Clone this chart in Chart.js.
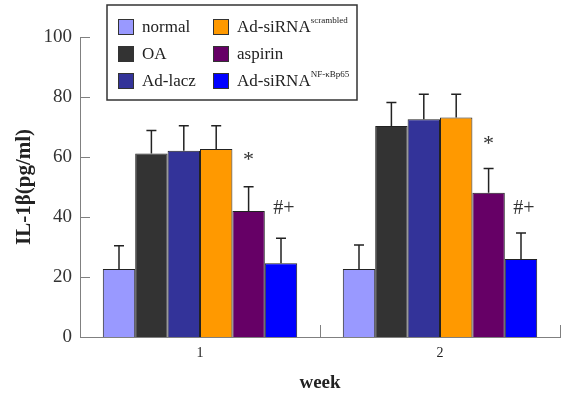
<!DOCTYPE html>
<html>
<head>
<meta charset="utf-8">
<script src="https://cdn.jsdelivr.net/npm/chart.js@4/dist/chart.umd.min.js"></script>
<style>
  body { margin: 0; background: #fff; }
</style>
</head>
<body>
<canvas id="myChart" width="565" height="395"></canvas>
<script>
const weeks = ["1", "2"];
const seriesNames = ["normal", "OA", "Ad-lacz", "Ad-siRNA", "aspirin", "Ad-siRNA"];
const seriesSup = ["", "", "", "scrambled", "", "NF-κBp65"];
const seriesColors = ["#9999ff", "#333333", "#333399", "#ff9900", "#660066", "#0000ff"];

// means per series, [week1, week2]
const normalVals = [22.7, 22.7];
const oaVals = [61.2, 70.3];
const laczVals = [62.1, 72.6];
const scrambledVals = [62.7, 73.2];
const aspirinVals = [42.0, 48.1];
const nfVals = [24.6, 26.0];

// upper error (SD) per series, [week1, week2]
const normalErr = [7.7, 8.0];
const oaErr = [7.6, 7.9];
const laczErr = [8.3, 8.3];
const scrambledErr = [7.7, 7.7];
const aspirinErr = [8.1, 8.1];
const nfErr = [8.3, 8.7];

// significance marks (value level where the sign sits)
const starLevel = [60.7, 66.0];
const hashLevel = [42.7, 42.7];

const yTicks = [0, 20, 40, 60, 80, 100];

const allVals = [normalVals, oaVals, laczVals, scrambledVals, aspirinVals, nfVals];
const allErr = [normalErr, oaErr, laczErr, scrambledErr, aspirinErr, nfErr];

const serif = "'Liberation Serif', 'Times New Roman', serif";

const errorBars = {
  id: "errorBars",
  afterDatasetsDraw(chart) {
    const ctx = chart.ctx;
    const y = chart.scales.y;
    ctx.save();
    ctx.strokeStyle = "#222";
    ctx.lineWidth = 1.5;
    chart.data.datasets.forEach((ds, i) => {
      const meta = chart.getDatasetMeta(i);
      meta.data.forEach((bar, j) => {
        const top = y.getPixelForValue(ds.data[j] + ds.errors[j]);
        ctx.beginPath();
        ctx.moveTo(bar.x, bar.y);
        ctx.lineTo(bar.x, top);
        ctx.moveTo(bar.x - 5, top);
        ctx.lineTo(bar.x + 5, top);
        ctx.stroke();
      });
    });

    // significance signs
    ctx.fillStyle = "#333";
    ctx.textAlign = "center";
    ctx.textBaseline = "middle";
    const aspMeta = chart.getDatasetMeta(4);
    const nfMeta = chart.getDatasetMeta(5);
    weeks.forEach((w, j) => {
      ctx.font = "22px " + serif;
      ctx.fillText("*", aspMeta.data[j].x, y.getPixelForValue(starLevel[j]) + 5);
      ctx.font = "20px " + serif;
      ctx.fillText("#+", nfMeta.data[j].x + 3, y.getPixelForValue(hashLevel[j]));
    });
    ctx.restore();
  }
};

const axisTicks = {
  id: "axisTicks",
  afterDraw(chart) {
    const ctx = chart.ctx;
    const { left, right, bottom } = chart.chartArea;
    const y = chart.scales.y;
    ctx.save();
    ctx.strokeStyle = "#808080";
    ctx.lineWidth = 1;
    yTicks.forEach(v => {
      const py = Math.round(y.getPixelForValue(v)) + 0.5;
      ctx.beginPath();
      ctx.moveTo(left, py);
      ctx.lineTo(left + 10, py);
      ctx.stroke();
    });
    const catW = (right - left) / weeks.length;
    for (let k = 1; k <= weeks.length; k++) {
      const px = Math.round(left + catW * k) + 0.5;
      ctx.beginPath();
      ctx.moveTo(px, bottom);
      ctx.lineTo(px, bottom - 12);
      ctx.stroke();
    }
    ctx.restore();
  }
};

const boxLegend = {
  id: "boxLegend",
  afterDraw(chart) {
    const ctx = chart.ctx;
    ctx.save();
    ctx.fillStyle = "#fff";
    ctx.fillRect(107, 5, 250, 95);
    ctx.strokeStyle = "#333";
    ctx.lineWidth = 1.5;
    ctx.strokeRect(107, 5, 250, 95);
    const colX = [118, 213];
    const rowY = [27, 54, 81];
    ctx.textBaseline = "middle";
    ctx.textAlign = "left";
    chart.data.datasets.forEach((ds, i) => {
      const cx = colX[Math.floor(i / 3)];
      const cy = rowY[i % 3];
      ctx.fillStyle = ds.backgroundColor;
      ctx.fillRect(cx, cy - 8, 16, 16);
      ctx.strokeStyle = "#333";
      ctx.lineWidth = 1;
      ctx.strokeRect(cx + 0.5, cy - 7.5, 15, 15);
      ctx.fillStyle = "#222";
      ctx.font = "17px " + serif;
      const name = seriesNames[i];
      ctx.fillText(name, cx + 24, cy + 1);
      if (seriesSup[i]) {
        const w = ctx.measureText(name).width;
        ctx.font = "9px " + serif;
        ctx.fillText(seriesSup[i], cx + 24 + w, cy - 6);
      }
    });
    ctx.restore();
  }
};

const data = {
  labels: weeks,
  datasets: seriesNames.map((name, i) => ({
    label: seriesSup[i] ? name + " " + seriesSup[i] : name,
    data: allVals[i],
    errors: allErr[i],
    backgroundColor: seriesColors[i],
    borderColor: "#222",
    borderWidth: 1,
    categoryPercentage: 0.81,
    barPercentage: 1.0,
  })),
};

const config = {
  type: "bar",
  data: data,
  options: {
    responsive: false,
    animation: false,
    layout: { padding: { top: 37, right: 5, left: 0, bottom: 0 } },
    scales: {
      x: {
        grid: { display: false, drawTicks: false },
        border: { display: true, color: "#808080", width: 1 },
        ticks: {
          padding: 8,
          color: "#222",
          font: { family: serif, size: 14 },
        },
        title: {
          display: true,
          text: "week",
          color: "#222",
          padding: { top: 0, bottom: 1 },
          font: { family: serif, size: 19, weight: "bold" },
        },
        afterFit: (scale) => { scale.height = 58; },
      },
      y: {
        min: 0,
        max: 100,
        grid: { display: false, drawTicks: false },
        border: { display: true, color: "#808080", width: 1 },
        ticks: {
          stepSize: 20,
          padding: 8,
          color: "#333",
          font: { family: serif, size: 19 },
        },
        title: {
          display: true,
          text: "IL-1β(pg/ml)",
          color: "#222",
          padding: { top: 12, bottom: 0 },
          font: { family: serif, size: 21, weight: "bold" },
        },
        afterFit: (scale) => { scale.width = 80; },
      },
    },
    plugins: {
      legend: { display: false },
      tooltip: { enabled: false },
    },
  },
  plugins: [errorBars, axisTicks, boxLegend],
};

const myChart = new Chart(document.getElementById("myChart").getContext("2d"), config);
</script>
</body>
</html>
